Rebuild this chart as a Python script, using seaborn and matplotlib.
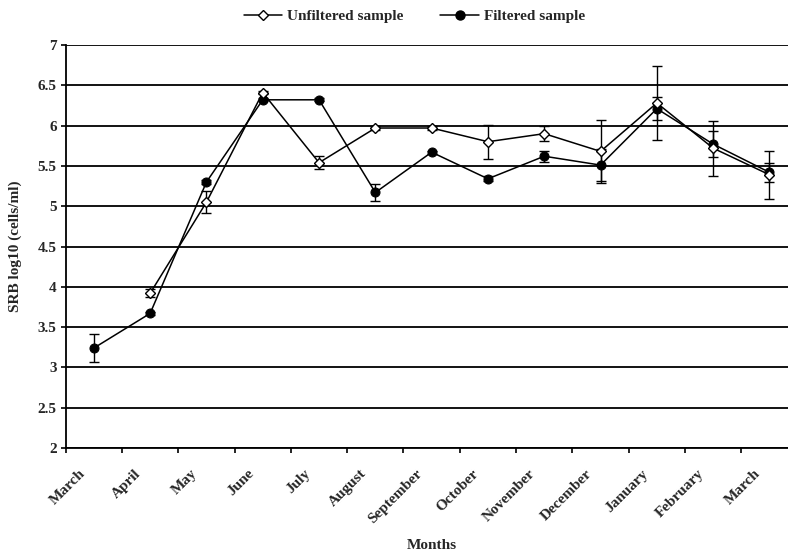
import numpy as np
import pandas as pd
import matplotlib
matplotlib.use("Agg")
import matplotlib.pyplot as plt
import matplotlib.transforms as mtransforms
from matplotlib.lines import Line2D
import seaborn as sns

# Monthly SRB counts (log10 cells/ml), mean and error for each sample type
months = ["March", "April", "May", "June", "July", "August", "September",
          "October", "November", "December", "January", "February", "March"]
unfiltered = [np.nan, 3.92, 5.05, 6.41, 5.54, 5.97, 5.97, 5.80, 5.90, 5.68, 6.28, 5.72, 5.39]
unfiltered_err = [np.nan, 0.05, 0.14, 0.02, 0.08, 0.02, 0.02, 0.21, 0.09, 0.39, 0.46, 0.34, 0.30]
filtered = [3.24, 3.67, 5.30, 6.32, 6.32, 5.17, 5.67, 5.34, 5.62, 5.51, 6.21, 5.77, 5.42]
filtered_err = [0.17, 0.02, 0.02, 0.02, 0.02, 0.10, 0.02, 0.03, 0.07, 0.20, 0.14, 0.16, 0.12]
y_ticks = [2, 2.5, 3, 3.5, 4, 4.5, 5, 5.5, 6, 6.5, 7]
y_tick_labels = ["2", "2.5", "3", "3.5", "4", "4.5", "5", "5.5", "6", "6.5", "7"]

sns.set_theme(style="white")
plt.rcParams["font.family"] = ["Liberation Serif", "DejaVu Serif"]
plt.rcParams["font.weight"] = "bold"

pos = np.arange(len(months))
df_unf = pd.DataFrame({"pos": pos, "value": unfiltered, "err": unfiltered_err}).dropna()
df_fil = pd.DataFrame({"pos": pos, "value": filtered, "err": filtered_err})

W, H = 788, 553
fig = plt.figure(figsize=(W / 100, H / 100), dpi=100)
left, right, top, bottom = 65.7, 797.6, 45.0, 448.0
ax = fig.add_axes([left / W, 1 - bottom / H, (right - left) / W, (bottom - top) / H])

# error bars first, then the lines with markers on top
ax.errorbar(df_fil["pos"], df_fil["value"], yerr=df_fil["err"], fmt="none",
            ecolor="black", elinewidth=1.0, capsize=3.8, capthick=1.0, zorder=3)
ax.errorbar(df_unf["pos"], df_unf["value"], yerr=df_unf["err"], fmt="none",
            ecolor="black", elinewidth=1.0, capsize=3.8, capthick=1.0, zorder=3)

sns.lineplot(data=df_fil, x="pos", y="value", ax=ax, color="black", lw=1.1,
             marker="o", markersize=6.5, markerfacecolor="black",
             markeredgecolor="black", legend=False, zorder=4)
sns.lineplot(data=df_unf, x="pos", y="value", ax=ax, color="black", lw=1.1,
             marker="D", markersize=5.0, markerfacecolor="white",
             markeredgecolor="black", markeredgewidth=1.0, legend=False, zorder=5)

ax.set_xlim(-0.5, len(months) - 0.5)
ax.set_ylim(2, 7)

# horizontal gridlines
ax.set_yticks(y_ticks)
ax.set_yticklabels(y_tick_labels, fontsize=11, fontweight="bold")
ax.yaxis.grid(True, color="black", lw=1.3)
ax.xaxis.grid(False)
ax.set_axisbelow(True)

# category boundaries as ticks, month names centred in each category
ax.set_xticks(np.arange(-0.5, len(months), 1.0))
ax.set_xticklabels([])
ax.set_xticks(pos, minor=True)
ax.set_xticklabels(months, minor=True, rotation=45, ha="right", va="center",
                   rotation_mode="anchor", fontsize=11, fontweight="bold")
ax.tick_params(axis="x", which="major", direction="out", length=3.5, width=1.2,
               color="black", bottom=True)
ax.tick_params(axis="x", which="minor", length=0, pad=17, bottom=True)
ax.tick_params(axis="y", which="major", direction="out", length=3.5, width=1.2,
               color="black", left=True, pad=3)
shift = mtransforms.ScaledTranslation(-11 / 100, 0, fig.dpi_scale_trans)
for lab in ax.xaxis.get_minorticklabels():
    lab.set_transform(lab.get_transform() + shift)

for side in ["top", "right"]:
    ax.spines[side].set_visible(False)
for side in ["left", "bottom"]:
    ax.spines[side].set_color("black")
    ax.spines[side].set_linewidth(1.3)

ax.set_xlabel("Months", fontsize=11, fontweight="bold")
ax.xaxis.set_label_coords(0.5, -(549 - 448) / (bottom - top), transform=ax.transAxes)
ax.xaxis.label.set_va("baseline")
ax.set_ylabel("SRB log10 (cells/ml)", fontsize=11, fontweight="bold")
ax.yaxis.set_label_coords(-(left - 22) / (right - left), 0.5)

handles = [
    Line2D([], [], color="black", lw=1.1, marker="D", markersize=5.0,
           markerfacecolor="white", markeredgecolor="black"),
    Line2D([], [], color="black", lw=1.1, marker="o", markersize=6.5,
           markerfacecolor="black"),
]
fig.legend(handles, ["Unfiltered sample", "Filtered sample"], ncol=2,
           loc="center", bbox_to_anchor=(414.5 / W, 1 - 16 / H), frameon=False,
           prop={"size": 11, "weight": "bold"}, handlelength=2.5,
           handletextpad=0.35, columnspacing=2.4)

fig.savefig("out.png", dpi=100)
